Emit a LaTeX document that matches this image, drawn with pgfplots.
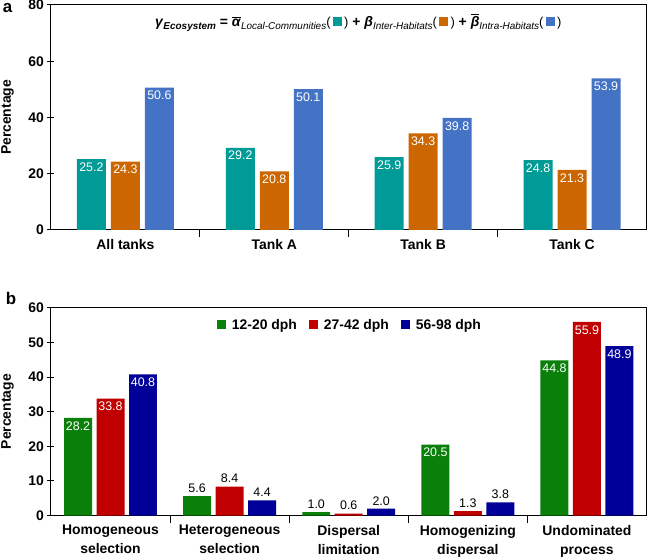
\documentclass[border=0pt]{standalone}
\usepackage{pgfplots}
\pgfplotsset{compat=1.18}
\usepackage{fontspec}
\setmainfont{Liberation Sans}
\definecolor{cteal}{RGB}{0,155,150}
\definecolor{corange}{RGB}{204,102,0}
\definecolor{cblue}{RGB}{68,114,196}
\definecolor{cgreen}{RGB}{10,128,10}
\definecolor{cred}{RGB}{192,0,0}
\definecolor{cnavy}{RGB}{0,0,153}
\newcommand{\sub}[1]{\raisebox{-0.4ex}{\fontsize{10}{12}\selectfont #1}}
\newcommand{\sq}[1]{{\fontsize{13}{14}\selectfont\mdseries\upshape(}\,\textcolor{#1}{\rule{9bp}{9bp}}\,{\fontsize{13}{14}\selectfont\mdseries\upshape)}}
\pgfplotsset{
  common/.style={
    scale only axis, width=596bp,
    axis line style={line width=1bp, black},
    tick align=center, major tick length=7bp,
    every tick/.style={black, line width=1bp},
    ytick pos=left, xtick pos=bottom,
    tick label style={font=\fontsize{14}{19}\selectfont\bfseries, align=center},
    xticklabel style={yshift=-6bp},
    /pgf/number format/assume math mode=true,
    extra x tick style={major tick length=0pt},
    xticklabels={},
    ylabel={Percentage},
    every axis y label/.style={at={(rel axis cs:-0.073,0.5)}, rotate=90, anchor=center, font=\fontsize{14}{16}\selectfont\bfseries},
    nodes near coords={\pgfmathprintnumber[fixed,fixed zerofill,precision=1]{\pgfplotspointmeta}},
    nodes near coords style={font=\fontsize{12.5}{14}\selectfont},
    clip=false,
  },
  inlab/.style={nodes near coords style={white, anchor=north}},
  uplab/.style={nodes near coords style={black, anchor=south}},
}
\begin{document}
\begin{tikzpicture}
\path[use as bounding box] (-51bp,5bp) rectangle (597.5bp,-553bp);
\begin{axis}[common,
  name=a, at={(0,0)}, anchor=north west, height=225bp,
  ybar=5bp, bar width=29bp,
  xmin=-0.5, xmax=3.5, ymin=0, ymax=80,
  ytick={0,20,40,60,80},
  xtick={0.5,1.5,2.5},
  extra x ticks={0,1,2,3},
  extra x tick labels={All tanks, Tank A, Tank B, Tank C},
]
\addplot[fill=cteal, draw=none, inlab] coordinates {(0,25.2) (1,29.2) (2,25.9) (3,24.8)};
\addplot[fill=corange, draw=none, inlab] coordinates {(0,24.3) (1,20.8) (2,34.3) (3,21.3)};
\addplot[fill=cblue, draw=none, inlab] coordinates {(0,50.6) (1,50.1) (2,39.8) (3,53.9)};
\node[font=\fontsize{14}{16}\selectfont] at (rel axis cs:0.516,0.922)
  {\textbf{\textit{γ}}\sub{\textbf{\textit{Ecosystem}}}\;\textbf{=}\;$\overline{\mbox{\textbf{\textit{α}}}}$\sub{\textit{Local-Communities}}\sq{cteal}\;\textbf{+}\;\textbf{\textit{β}}\sub{\textit{Inter-Habitats}}\sq{corange}\;\textbf{+}\;$\overline{\mbox{\textbf{\textit{β}}}}$\sub{\textit{Intra-Habitats}}\sq{cblue}};
\node[font=\fontsize{17}{18}\selectfont\bfseries] at (rel axis cs:-0.073,0.985) {a};
\end{axis}
\begin{axis}[common,
  name=b, at={(0,-303bp)}, anchor=north west, height=208bp,
  ybar, bar width=28bp,
  xmin=-0.5, xmax=4.5, ymin=0, ymax=60,
  ytick={0,10,...,60},
  xtick={0.5,1.5,2.5,3.5},
  extra x ticks={0,1,2,3,4},
  extra x tick labels={{Homogeneous\\selection},{Heterogeneous\\selection},{Dispersal\\limitation},{Homogenizing\\dispersal},{Undominated\\process}},
  every axis plot/.append style={legend image code/.code={\fill[##1] (0bp,-4.5bp) rectangle (9bp,4.5bp);}},
  legend style={at={(0.502,0.918)}, anchor=center, draw=none, legend columns=3,
    font=\fontsize{14}{16}\selectfont\bfseries,
    /tikz/every odd column/.append style={column sep=4bp},
    /tikz/every even column/.append style={column sep=10bp}},
]
\addplot[fill=cgreen, draw=none, bar shift=-32.5bp, inlab] coordinates {(0,28.2) (3,20.5) (4,44.8)};
\addlegendentry{12-20 dph}
\addplot[fill=cred, draw=none, bar shift=0bp, inlab] coordinates {(0,33.8) (4,55.9)};
\addlegendentry{27-42 dph}
\addplot[fill=cnavy, draw=none, bar shift=32.5bp, inlab] coordinates {(0,40.8) (4,48.9)};
\addlegendentry{56-98 dph}
\addplot[fill=cgreen, draw=none, bar shift=-32.5bp, uplab, forget plot] coordinates {(1,5.6) (2,1.0)};
\addplot[fill=cred, draw=none, bar shift=0bp, uplab, forget plot] coordinates {(1,8.4) (2,0.6) (3,1.3)};
\addplot[fill=cnavy, draw=none, bar shift=32.5bp, uplab, forget plot] coordinates {(1,4.4) (2,2.0) (3,3.8)};
\node[font=\fontsize{17}{18}\selectfont\bfseries] at (rel axis cs:-0.067,1.043) {b};
\end{axis}
\end{tikzpicture}
\end{document}
